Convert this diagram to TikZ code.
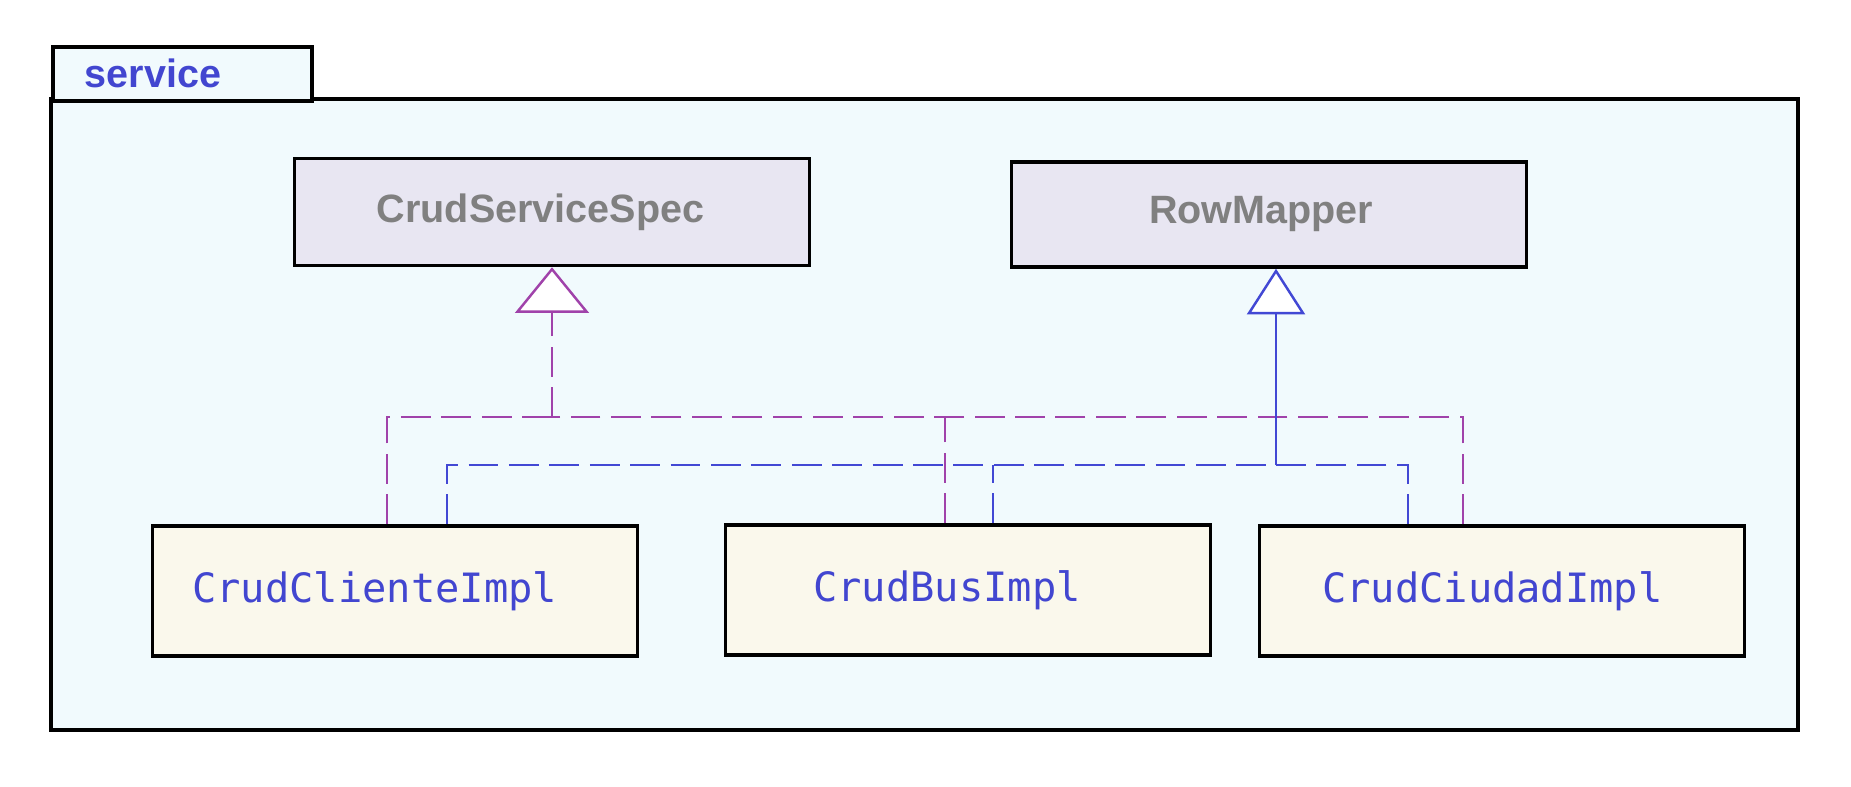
\documentclass[tikz,border=0pt]{standalone}
\usepackage{fontspec}
\usepackage{xcolor}
\usetikzlibrary{positioning,arrows.meta,calc}

\newfontfamily\headfont{Liberation Sans}
\newfontfamily\codefont{DejaVu Sans Mono}

\definecolor{pkgfill}{RGB}{241,250,253}
\definecolor{ifacefill}{RGB}{232,230,242}
\definecolor{implfill}{RGB}{250,248,236}
\definecolor{codeblue}{RGB}{66,70,208}
\definecolor{realmag}{RGB}{160,66,170}
\definecolor{realblue}{RGB}{66,72,212}

\begin{document}
\begin{tikzpicture}[x=0.02cm, y=-0.02cm,
  pkg/.style={draw, line width=2.1pt, fill=pkgfill},
  iface/.style={draw, line width=2pt, fill=ifacefill, minimum width=10.3cm, minimum height=2.14cm, font=\headfont\bfseries\fontsize{22.5}{26}\selectfont, text=gray},
  impl/.style={draw, line width=2pt, fill=implfill, minimum width=9.7cm, minimum height=2.6cm, font=\codefont\fontsize{23}{27}\selectfont, text=codeblue},
  nudge/.style={execute at end node=\hspace*{#1}},
  realm/.style={realmag, line width=1.5pt, dash pattern=on 17pt off 6pt},
  realb/.style={realblue, line width=1.5pt, dash pattern=on 17pt off 6pt},
  hollow/.style={-{Triangle[width=#1, length=26pt, line width=1.4pt, fill=white]}}
]
\useasboundingbox (0,0) rectangle (1851,787);

% package frame
\node[pkg, minimum width=34.94cm, minimum height=12.62cm] (body) at (924.5,414.5) {};
\node[pkg, anchor=north west, minimum height=1.08cm, inner xsep=0.64cm, text width=3.9cm, align=left,
      font=\headfont\bfseries\fontsize{22.5}{26}\selectfont, text=codeblue] (tab) at (51,45) {service};

% interfaces
\node[iface, nudge=13pt] (spec)   at (552,212)    {CrudServiceSpec};
\node[iface, nudge=9pt, minimum height=2.1cm] (mapper) at (1269,214.5) {RowMapper};

% implementations
\node[impl, nudge=23pt] (cli) at (395,591) {CrudClienteImpl};
\node[impl, nudge=24pt] (bus) at (968,590) {CrudBusImpl};
\node[impl, nudge=11pt] (ciu) at (1502,591) {CrudCiudadImpl};

\coordinate (specbus) at (spec.south |- 0,417);
\coordinate (mapbus) at ($(mapper.south |- 0,465)+(7,0)$);

% realizations of CrudServiceSpec
\draw[realm, hollow=42pt] (specbus) -- (spec.south);
\draw[realm] ($(cli.north)+(-8,0)$) |- (specbus);
\draw[realm] ($(ciu.north)+(-39,0)$) |- (specbus);
\draw[realm] ($(bus.north)+(-23,0)$) coordinate (busm) -- (busm |- specbus);

% realizations of RowMapper
\draw[realblue, line width=1.5pt, hollow=33pt] (mapbus) -- ($(mapper.south)+(7,0)$);
\draw[realb] ($(cli.north)+(52,0)$) |- (mapbus);
\draw[realb] ($(ciu.north)+(-94,0)$) |- (mapbus);
\draw[realb] ($(bus.north)+(25,0)$) coordinate (busb) -- (busb |- mapbus);

\end{tikzpicture}
\end{document}
